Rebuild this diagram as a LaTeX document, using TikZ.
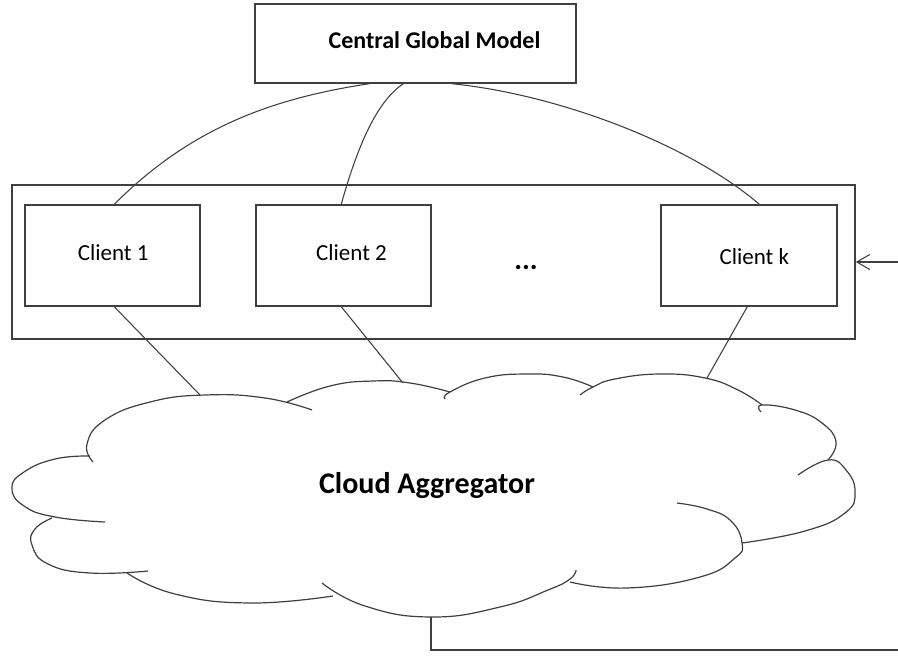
\documentclass[tikz,border=0pt]{standalone}
\usepackage{fontspec}
\setmainfont{Carlito}
\usetikzlibrary{arrows.meta,fit}
\definecolor{linegray}{HTML}{3F3F3F}
\begin{document}
\begin{tikzpicture}[x=0.75pt,y=-0.75pt,
  box/.style={draw=linegray, line width=1.1pt, inner sep=0pt, rectangle},
  conn/.style={draw=linegray, line width=0.8pt},
  cloudline/.style={draw=linegray, line width=0.9pt},
  lbl/.style={font=\fontsize{17.25}{20}\selectfont, text=black, inner sep=0pt},
  blbl/.style={font=\bfseries\fontsize{18}{21}\selectfont, text=black, inner sep=0pt},
  ]
\useasboundingbox[fill=white] (0,0) rectangle (898,656);

% boxes
\node[box, fit={(255,4)(576,83)}, label={[blbl, xshift=14.25pt, yshift=2.5pt]center:Central Global Model}] (cgm) {};
\node[box, fit={(12,185)(855,339)}] (outer) {};
\node[box, fit={(25,205)(200,306)}, label={[lbl, xshift=0.5pt, yshift=2pt]center:Client 1}] (cl1) {};
\node[box, fit={(256,205)(431,306)}, label={[lbl, xshift=6pt, yshift=2pt]center:Client 2}] (cl2) {};
\node[box, fit={(661,205)(837,306)}, label={[lbl, xshift=4pt, yshift=-1pt]center:Client k}] (clk) {};
\node[font=\bfseries\fontsize{22}{24}\selectfont, inner sep=0pt] (dots) at (526,268) {...};

% cloud outline
\begin{scope}[cloudline]
\draw plot[smooth, tension=0.8] coordinates {(93,462) (87,444) (105,420) (150,402) (205,395) (265,398) (312,410)};
\draw plot[smooth, tension=0.8] coordinates {(90,456) (55,459) (24,472) (12,488) (24,506) (55,517) (105,522)};
\draw plot[smooth, tension=0.8] coordinates {(52,518) (35,529) (32,545) (48,564) (90,573) (148,571)};
\draw plot[smooth, tension=0.8] coordinates {(127,573) (175,594) (250,603) (333,596)};
\draw plot[smooth, tension=0.8] coordinates {(322,583) (365,606) (431,617) (500,607) (548,590) (570,579) (576,570)};
\draw plot[smooth, tension=0.8] coordinates {(570,582) (627,588) (700,577) (735,558) (742,543) (731,521) (707,509) (677,503)};
\draw plot[smooth, tension=0.8] coordinates {(742,543) (805,531) (845,513) (855,492) (846,470) (828,460) (798,475)};
\draw plot[smooth, tension=0.8] coordinates {(828,460) (836,442) (822,423) (795,410) (762,405) (761,412)};
\draw plot[smooth, tension=0.8] coordinates {(762,405) (738,390) (705,378) (660,374) (615,379) (593,387) (580,395)};
\draw plot[smooth, tension=0.8] coordinates {(593,387) (563,377) (527,374) (485,378) (450,392) (445,399)};
\draw plot[smooth, tension=0.8] coordinates {(450,392) (410,383) (373,381) (330,386) (287,402)};
\end{scope}
\node[font=\bfseries\fontsize{22.5}{26}\selectfont, inner sep=0pt] (cloudtxt) at (427,486) {Cloud Aggregator};

% attachment points on the cloud
\coordinate (cA) at (200,395);
\coordinate (cB) at (403,383);
\coordinate (cC) at (707,378);
\coordinate (cbot) at (431,617);
\coordinate (rightend) at (898,650);
\coordinate (arrstart) at (898,262);

% connectors from the global model to the clients
\draw[conn] ([xshift=86.25pt]cgm.south west) .. controls +(-100,15) and +(75,-75) .. ([xshift=67.5pt]cl1.north west);
\draw[conn] ([xshift=111.75pt]cgm.south west) .. controls +(-24,16) and +(18,-65) .. ([xshift=64.5pt]cl2.north west);
\draw[conn] ([xshift=148.5pt]cgm.south west) .. controls +(107,11) and +(-70,-60) .. ([xshift=74.25pt]clk.north west);

% connectors from the clients to the cloud
\draw[conn] ([xshift=67.5pt]cl1.south west) -- (cA);
\draw[conn] ([xshift=64.5pt]cl2.south west) -- (cB);
\draw[conn] ([xshift=65.25pt]clk.south west) -- (cC);

% feedback line and arrow
\draw[conn, line width=1pt] (cbot) |- (rightend);
\draw[conn, -{Straight Barb[length=9.75pt,width=11.25pt]}] (arrstart) -- (outer.east);
\end{tikzpicture}
\end{document}
